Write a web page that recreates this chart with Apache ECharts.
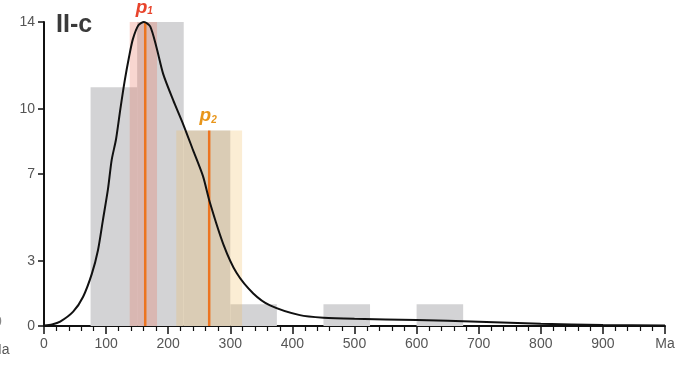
<!DOCTYPE html>
<html>
<head>
<meta charset="utf-8">
<script src="https://cdn.jsdelivr.net/npm/echarts@6/dist/echarts.min.js"></script>
<style>
	html, body { margin: 0; padding: 0; background: #fff; }
	#chart { width: 679px; height: 371px; }
</style>
</head>
<body>
<div id="chart"></div>
<script>
// histogram bins (Ma), width 75
const binStart = [75, 150, 225, 300, 375, 450, 525, 600]
const binCount = [11, 14, 9, 1, 0, 1, 0, 1]
const binWidth = 75

// density curve
const curveAge = [0, 13, 26, 47, 63, 77, 87, 95, 103, 109, 116, 123, 130, 137, 143, 152, 161, 171, 181, 192, 208, 224, 240, 256, 267, 289, 310, 337, 364, 412, 450, 500, 600, 700, 800, 900, 1000]
const curveVal = [0.02, 0.07, 0.2, 0.66, 1.35, 2.4, 3.5, 4.9, 6.3, 7.65, 8.6, 10.0, 11.3, 12.4, 13.2, 13.85, 14.0, 13.8, 12.85, 11.6, 10.4, 9.3, 8.1, 6.9, 5.7, 3.75, 2.45, 1.5, 0.95, 0.5, 0.38, 0.33, 0.28, 0.2, 0.1, 0.05, 0.02]

// peaks and their ranges
const peakNames = ['1', '2']
const peakAge = [163, 266]
const peakFrom = [138, 213]
const peakTo = [182, 319]
const peakTop = [14, 9]

// tick labels
const yTicks = [0, 3, 7, 10, 14]

const chart = echarts.init(document.getElementById('chart'))
const font = 'Liberation Sans, Arial, sans-serif'
const bandColors = ['rgba(232,120,100,0.30)', 'rgba(240,185,90,0.26)']
const labelColors = ['#e8432b', '#e8951a']

const option = {
	animation: false,
	grid: { left: 44, right: 14, top: 22, bottom: 45 },
	xAxis: {
		type: 'value',
		min: 0,
		max: 1000,
		interval: 100,
		axisLine: { lineStyle: { color: '#111', width: 2 } },
		axisTick: { length: 8, lineStyle: { color: '#111', width: 1.5 } },
		minorTick: { show: true, splitNumber: 5, length: 5, lineStyle: { color: '#111', width: 1.2 } },
		splitLine: { show: false },
		axisLabel: {
			color: '#555',
			fontSize: 14,
			fontFamily: font,
			margin: 11,
			formatter: v => (v === 1000 ? 'Ma' : v)
		}
	},
	yAxis: {
		type: 'value',
		min: 0,
		max: 14,
		axisLine: { show: true, lineStyle: { color: '#111', width: 2 } },
		axisTick: { show: true, length: 6, customValues: yTicks, lineStyle: { color: '#111', width: 1.5 } },
		axisLabel: { color: '#555', fontSize: 14, fontFamily: font, margin: 9, customValues: yTicks },
		splitLine: { show: false }
	},
	graphic: [
		{ type: 'text', left: 56, top: 13, style: { text: 'II-c', font: 'bold 25px ' + font, fill: '#3a3a3a' } },
		// cut-off bits of the neighbour panel
		{ type: 'text', left: -10, top: 343, style: { text: 'Ma', font: '14px ' + font, fill: '#555' } },
		{ type: 'text', left: -6, top: 315, style: { text: '0', font: '14px ' + font, fill: '#888' } }
	],
	series: [
		{
			// histogram
			type: 'custom',
			data: binStart.map((s, i) => [s, s + binWidth, binCount[i]]),
			renderItem: function (params, api) {
				const p0 = api.coord([api.value(0), 0])
				const p1 = api.coord([api.value(1), api.value(2)])
				return {
					type: 'rect',
					shape: { x: p0[0], y: p1[1], width: p1[0] - p0[0], height: p0[1] - p1[1] },
					style: { fill: '#d3d3d5' }
				}
			},
			z: 1
		},
		{
			// peak ranges
			type: 'custom',
			data: peakAge.map((a, i) => [peakFrom[i], peakTo[i], peakTop[i], i]),
			renderItem: function (params, api) {
				const p0 = api.coord([api.value(0), 0])
				const p1 = api.coord([api.value(1), api.value(2)])
				return {
					type: 'rect',
					shape: { x: p0[0], y: p1[1], width: p1[0] - p0[0], height: p0[1] - p1[1] },
					style: { fill: bandColors[api.value(3)] }
				}
			},
			z: 2
		},
		{
			// peak lines + labels
			type: 'custom',
			data: peakAge.map((a, i) => [a, peakTop[i], i]),
			renderItem: function (params, api) {
				const b = api.coord([api.value(0), 0])
				const t = api.coord([api.value(0), api.value(1)])
				const i = api.value(2)
				return {
					type: 'group',
					children: [
						{ type: 'line', shape: { x1: b[0], y1: b[1], x2: t[0], y2: t[1] }, style: { stroke: '#ec7420', lineWidth: 2.5 } },
						{
							type: 'text',
							x: t[0] - 1,
							y: t[1] - 5,
							style: {
								text: '{p|p}{s|' + peakNames[i] + '}',
								align: 'center',
								verticalAlign: 'bottom',
								rich: {
									p: { font: 'italic bold 19px ' + font, fill: labelColors[i] },
									s: { font: 'italic bold 10px ' + font, fill: labelColors[i], padding: [8, 0, 0, 0] }
								}
							}
						}
					]
				}
			},
			z: 4
		},
		{
			type: 'line',
			data: curveAge.map((a, i) => [a, curveVal[i]]),
			smooth: 0.25,
			showSymbol: false,
			lineStyle: { color: '#111', width: 2 },
			z: 5
		}
	]
}
chart.setOption(option)
</script>
</body>
</html>
